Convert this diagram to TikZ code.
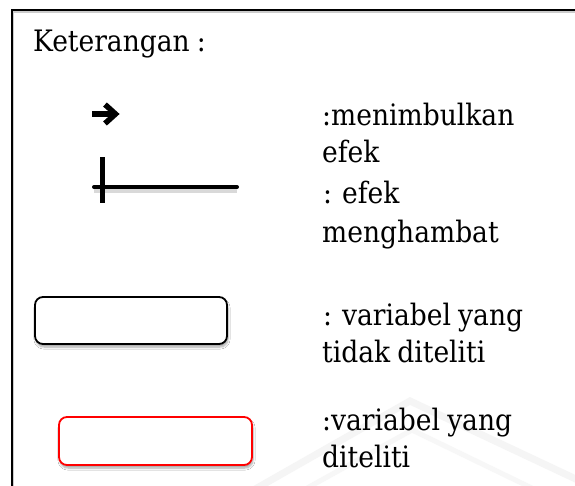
\documentclass[tikz,border=0pt]{standalone}
\usepackage{fontspec}
\setmainfont[WordSpace=0.85]{DejaVu Serif Condensed}
\usetikzlibrary{shadows.blur}
\begin{document}
\begin{tikzpicture}[x=1pt,y=-1pt,
  lbl/.style={anchor=base west, inner sep=0pt, font=\fontsize{29.5}{34}\selectfont},
  softshadow/.style={blur shadow={shadow xshift=1pt, shadow yshift=-3pt, shadow blur steps=6, shadow opacity=35}},
  legbox/.style={rounded corners=8pt, line width=1.8pt, fill=white, softshadow}]
\useasboundingbox (0,0) rectangle (575,485);
\fill[white] (0,0) rectangle (575,485);
% faint watermark arcs
\draw[gray!8, line width=7pt] (250,492) -- (410,401) -- (580,481);
\draw[gray!6, line width=5pt] (300,492) -- (412,430) -- (540,492);
% outer frame, open to the right and bottom
\draw[gray!40, line width=2pt] (13,490) -- (13,12) -- (580,12);
\draw[line width=2pt] (11.5,490) -- (11.5,10) -- (580,10);
\node[lbl] (title) at (33,51) {Keterangan :};
% activation arrow
\draw[line width=5.5pt] (92,114) -- (113,114);
\draw[line width=5.5pt, line join=miter] (105,104.5) -- (115.5,114) -- (105,123.5);
\node[lbl] (t1) at (322,125) {:menimbulkan};
\node[lbl] (t1b) at (322,162) {efek};
% inhibition symbol
\coordinate (ia) at (94,187);
\coordinate (ib) at (237,187);
\coordinate (ic) at (102.7,157);
\coordinate (id) at (102.7,203);
\draw[gray!30, line width=5pt] ([yshift=-3pt]ia) -- ([yshift=-3pt]ib);
\draw[line width=4pt, line cap=round] (ia) -- (ib);
\draw[line width=4.5pt] (ic) -- (id);
\node[lbl] (t2) at (323,203) {: efek};
\node[lbl] (t2b) at (322,242) {menghambat};
% legend boxes
\draw[legbox] (35,297) rectangle (227,344);
\node[lbl] (t3) at (323,325) {: variabel yang};
\node[lbl] (t3b) at (322,362) {tidak diteliti};
\draw[legbox, draw=red] (59,417) rectangle (252,465);
\node[lbl] (t4) at (322,430) {:variabel yang};
\node[lbl] (t4b) at (322,467) {diteliti};
\end{tikzpicture}
\end{document}
